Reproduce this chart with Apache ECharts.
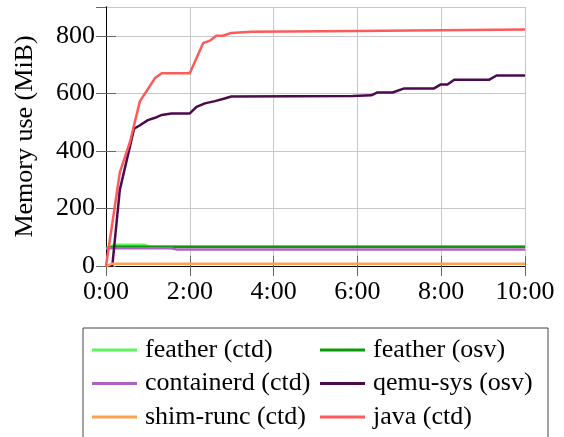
<!DOCTYPE html>
<html>
<head>
<meta charset="utf-8">
<script src="https://cdn.jsdelivr.net/npm/echarts@6/dist/echarts.min.js"></script>
<style>
  html, body { margin: 0; padding: 0; background: #fff; }
  #chart { width: 564px; height: 437px; }
</style>
</head>
<body>
<div id="chart"></div>
<script>
// Time in minutes, memory in MiB
var featherCtdT = [0, 0.2, 0.9, 1.05, 10];
var featherCtdV = [62, 74, 74, 67, 67];

var featherOsvT = [0, 0.2, 10];
var featherOsvV = [62, 67, 67];

var containerdT = [0, 1.55, 1.7, 10];
var containerdV = [62, 62, 57, 57];

var qemuT = [0, 0.15, 0.33, 0.67, 0.81, 1.0, 1.17, 1.33, 1.56, 2.0, 2.16, 2.36, 2.6, 2.83, 2.99,
             5.89, 6.33, 6.48, 6.84, 7.12, 7.83, 7.99, 8.15, 8.31, 9.14, 9.32, 10];
var qemuV = [0, 0, 265, 477, 489, 507, 515, 525, 530, 530, 553, 565, 573, 582, 589,
             591, 593, 603, 603, 617, 617, 631, 631, 647, 647, 662, 662];

var shimT = [0, 0.15, 10];
var shimV = [0, 8, 8];

var javaT = [0, 0.33, 0.57, 0.81, 0.97, 1.17, 1.33, 2.0, 2.32, 2.48, 2.63, 2.79, 2.99, 3.47, 6.0, 10];
var javaV = [0, 325, 430, 573, 608, 653, 670, 670, 775, 783, 800, 800, 810, 814, 817, 822];

var seriesNames = ['feather (ctd)', 'feather (osv)', 'containerd (ctd)', 'qemu-sys (osv)', 'shim-runc (ctd)', 'java (ctd)'];
var seriesColors = ['#5ef55e', '#0a9a0a', '#b060c0', '#4b0a50', '#ffa050', '#ff5a5a'];
var seriesT = [featherCtdT, featherOsvT, containerdT, qemuT, shimT, javaT];
var seriesV = [featherCtdV, featherOsvV, containerdV, qemuV, shimV, javaV];

var xTicks = ['0:00', '2:00', '4:00', '6:00', '8:00', '10:00'];

function pairs(t, v) {
  var out = [];
  for (var i = 0; i < t.length; i++) out.push([t[i], v[i]]);
  return out;
}

var font = 'Liberation Serif';
var tickStyle = { show: true, inside: true, length: 10, lineStyle: { color: '#666', width: 1 } };

var series = [];
for (var i = 0; i < seriesNames.length; i++) {
  series.push({
    name: seriesNames[i],
    type: 'line',
    xAxisIndex: 0,
    yAxisIndex: 0,
    symbol: 'none',
    data: pairs(seriesT[i], seriesV[i]),
    lineStyle: { color: seriesColors[i], width: 2.5 },
    itemStyle: { color: seriesColors[i] }
  });
}

var legendBase = {
  orient: 'vertical',
  top: 337,
  padding: 0,
  itemGap: 7.5,
  icon: 'rect',
  itemWidth: 45,
  itemHeight: 3,
  textStyle: { fontFamily: font, fontSize: 26, color: '#000', lineHeight: 26, padding: [0, 0, 0, 3] }
};

var chart = echarts.init(document.getElementById('chart'), null, { renderer: 'canvas' });
chart.setOption({
  animation: false,
  backgroundColor: '#fff',
  grid: { left: 106, top: 7, width: 419, height: 259 },
  xAxis: [{
    type: 'value',
    position: 'bottom',
    min: 0, max: 10, interval: 2,
    axisLine: { show: true, lineStyle: { color: '#000', width: 1 } },
    axisTick: tickStyle,
    splitLine: { show: true, lineStyle: { color: '#c8c8c8', width: 1 } },
    axisLabel: {
      margin: 13,
      fontFamily: font, fontSize: 26, color: '#000',
      formatter: function (v) { return xTicks[Math.round(v / 2)]; }
    }
  }, {
    type: 'value',
    position: 'top',
    min: 0, max: 10, interval: 2,
    axisLine: { show: true, lineStyle: { color: '#000', width: 1 } },
    axisTick: tickStyle,
    splitLine: { show: false },
    axisLabel: { show: false }
  }],
  yAxis: [{
    type: 'value',
    position: 'left',
    min: 0, max: 900, interval: 200,
    name: 'Memory use (MiB)',
    nameLocation: 'middle',
    nameGap: 68,
    nameTextStyle: { fontFamily: font, fontSize: 26, color: '#000' },
    axisLine: { show: true, lineStyle: { color: '#000', width: 1 } },
    axisTick: tickStyle,
    splitLine: { show: true, lineStyle: { color: '#c8c8c8', width: 1 } },
    axisLabel: { margin: 11, fontFamily: font, fontSize: 26, color: '#000', showMaxLabel: false }
  }, {
    type: 'value',
    position: 'right',
    min: 0, max: 900, interval: 200,
    axisLine: { show: true, lineStyle: { color: '#000', width: 1 } },
    axisTick: tickStyle,
    splitLine: { show: false },
    axisLabel: { show: false }
  }],
  legend: [
    Object.assign({}, legendBase, { left: 92, data: [seriesNames[0], seriesNames[2], seriesNames[4]] }),
    Object.assign({}, legendBase, { left: 320, data: [seriesNames[1], seriesNames[3], seriesNames[5]] })
  ],
  graphic: [{
    type: 'rect',
    shape: { x: 83, y: 328, width: 465, height: 140 },
    style: { fill: 'none', stroke: '#444', lineWidth: 1 },
    silent: true
  }],
  series: series
});
</script>
</body>
</html>
